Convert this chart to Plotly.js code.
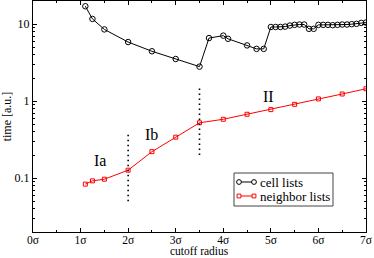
<!DOCTYPE html>
<html><head><meta charset="utf-8">
<script src="https://cdn.plot.ly/plotly-3.0.1.min.js"></script>
<style>html,body{margin:0;padding:0;background:#fff}#chart{width:374px;height:258px}</style>
</head><body><div id="chart"></div>
<script>
// cell lists
const cellR = [1.1,1.25,1.5,2.0,2.5,3.0,3.5,3.7,4.0,4.1,4.5,4.7,4.85,
  5.0,5.1,5.2,5.3,5.4,5.5,5.6,5.7,5.8,5.9,6.0,6.1,6.2,6.3,6.4,6.5,6.6,6.7,6.8,6.9,7.0];
const cellT = [17.1,11.7,8.55,5.86,4.45,3.53,2.81,6.6,7.1,6.46,5.3,4.78,4.78,
  9.2,9.2,9.2,9.3,9.6,9.8,9.9,9.9,8.7,8.7,9.8,9.8,9.8,9.7,9.8,9.9,9.9,10.0,10.1,10.4,10.5];
// neighbor lists
const nbR = [1.1,1.25,1.5,2.0,2.5,3.0,3.5,4.0,4.5,5.0,5.5,6.0,6.5,7.0];
const nbT = [0.0837,0.0923,0.097,0.127,0.221,0.341,0.524,0.582,0.676,0.777,0.91,1.07,1.24,1.45];
// dotted region separators
const sepX = [2.0, 3.5];
const sepLo = [0.05, 0.2];
const sepHi = [0.4, 1.6];
// region labels
const regText = ["Ia","Ib","II"];
const regX = [1.41, 2.5, 4.95];
const regY = [0.172, 0.37, 1.15];
// ticks
const xTickVals = [0,1,2,3,4,5,6,7];
const xTickText = ["0σ","1σ","2σ","3σ","4σ","5σ","6σ","7σ"];
const yTickVals = [0.1,1,10];
const yTickText = ["0.1","1","10"];
// legend
const seriesNames = ["cell lists", "neighbor lists"];
const seriesColors = ["#000000", "#ff0000"];
const seriesSymbols = ["circle", "rect"];

const font = "Liberation Serif, Times New Roman, serif";
const W = 374, H = 258, M = {l: 33, r: 8, t: 1, b: 26};
const pw = W - M.l - M.r, ph = H - M.t - M.b;
const px2x = p => (p - M.l) / pw;
const py2y = p => (H - M.b - p) / ph;

const traces = [
  {x: cellR, y: cellT, name: seriesNames[0], mode: "lines+markers",
   line: {color: seriesColors[0], width: 1},
   marker: {symbol: "circle-open", size: 5.5, color: seriesColors[0], line: {width: 1}}},
  {x: nbR, y: nbT, name: seriesNames[1], mode: "lines+markers",
   line: {color: seriesColors[1], width: 1},
   marker: {symbol: "square-open", size: 4, color: seriesColors[1], line: {width: 1}}}
];
sepX.forEach((sx, i) => traces.push({
  x: [sx, sx], y: [sepLo[i], sepHi[i]], mode: "lines", showlegend: false, hoverinfo: "skip",
  line: {color: "#000", width: 1.6, dash: "1.6px,3.4px"}
}));

const minorVals = [];
for (let e = -2; e <= 1; e++) for (let m = 2; m <= 9; m++) minorVals.push(m * Math.pow(10, e));

const annotations = regText.map((t, i) => ({
  x: regX[i], y: Math.log10(regY[i]), xref: "x", yref: "y", text: t, showarrow: false,
  font: {family: font, size: 16, color: "#000"}
}));
annotations.push({
  x: 0.5, y: 0, xref: "paper", yref: "paper", xanchor: "center", yanchor: "bottom",
  yshift: -M.b - 1, text: "cutoff radius", showarrow: false,
  font: {family: font, size: 11.5, color: "#000"}
});

// custom legend (box, sample lines, markers, labels)
const shapes = [{type: "rect", xref: "paper", yref: "paper",
  x0: px2x(234), x1: px2x(333), y0: py2y(206), y1: py2y(173),
  line: {color: "#444", width: 1}, fillcolor: "#fff", layer: "above"}];
seriesNames.forEach((nm, i) => {
  const yy = py2y(182 + 14 * i);
  shapes.push({type: "line", xref: "paper", yref: "paper", x0: px2x(239), x1: px2x(254),
    y0: yy, y1: yy, line: {color: seriesColors[i], width: 1}, layer: "above"});
  [239, 254].forEach(mx => {
    const r = i === 0 ? 2.4 : 1.9;
    shapes.push({type: seriesSymbols[i], xref: "paper", yref: "paper",
      xsizemode: "pixel", ysizemode: "pixel", xanchor: px2x(mx), yanchor: yy,
      x0: -r, x1: r, y0: -r, y1: r, line: {color: seriesColors[i], width: 1},
      fillcolor: "#fff", layer: "above"});
  });
  annotations.push({x: px2x(257.5), y: yy, xref: "paper", yref: "paper",
    xanchor: "left", yanchor: "middle", text: nm, showarrow: false,
    font: {family: font, size: 13, color: "#000"}});
});

const layout = {
  width: W, height: H, margin: M,
  paper_bgcolor: "#fff", plot_bgcolor: "#fff",
  font: {family: font, color: "#000", size: 12},
  showlegend: false,
  xaxis: {range: [0, 7], tickvals: xTickVals, ticktext: xTickText,
    ticks: "inside", ticklen: 4, tickcolor: "#000", mirror: "ticks",
    showline: true, linecolor: "#000", linewidth: 1, showgrid: false, zeroline: false,
    tickfont: {family: font, size: 11.5}, ticklabelstandoff: -3,
    minor: {dtick: 0.5, ticks: "inside", ticklen: 2, tickcolor: "#000", showgrid: false}},
  yaxis: {type: "log", range: [Math.log10(0.02), Math.log10(20)],
    tickmode: "array", tickvals: yTickVals, ticktext: yTickText,
    ticks: "inside", ticklen: 4, tickcolor: "#000", mirror: "ticks",
    showline: true, linecolor: "#000", linewidth: 1, showgrid: false, zeroline: false,
    tickfont: {family: font, size: 12},
    minor: {tickmode: "array", tickvals: minorVals, ticks: "inside", ticklen: 2, tickcolor: "#000", showgrid: false},
    title: {text: "time [a.u.]", font: {family: font, size: 12}, standoff: 4}},
  shapes: shapes,
  annotations: annotations
};
Plotly.newPlot("chart", traces, layout, {staticPlot: true, displayModeBar: false});
</script></body></html>
